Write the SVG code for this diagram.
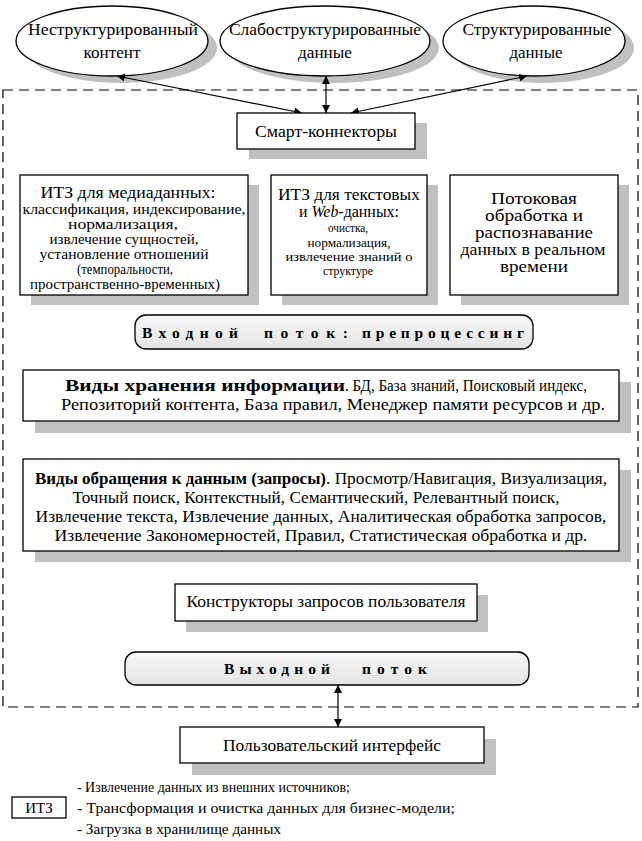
<svg xmlns="http://www.w3.org/2000/svg" width="642" height="841" viewBox="0 0 642 841">
<defs>
<style>
text{font-family:"Liberation Serif","DejaVu Serif","Times New Roman",serif;fill:#000}
.t{font-size:17px;text-anchor:middle}
.m{font-size:16px;text-anchor:middle}
.s1{font-size:14px;text-anchor:middle}
.s2{font-size:13px;text-anchor:middle}
.n{font-size:17px}
.b{font-size:17px;font-weight:bold}
.sp{font-size:15.5px;font-weight:bold}
.lg{font-size:15px}
.box{fill:#fff;stroke:#000;stroke-width:1.3}
.sh{fill:#c0c0c0}
.rb{fill:url(#g);stroke:#000;stroke-width:1.3}
.ln{stroke:#000;stroke-width:1.2;fill:none;marker-start:url(#ah);marker-end:url(#ah)}
</style>
<linearGradient id="g" x1="0" y1="0" x2="0" y2="1">
<stop offset="0" stop-color="#f8f8f8"/>
<stop offset="1" stop-color="#e4e4e4"/>
</linearGradient>
<marker id="ah" viewBox="0 0 10 10" refX="10" refY="5" markerWidth="8" markerHeight="8" markerUnits="userSpaceOnUse" orient="auto-start-reverse">
<path d="M0,0 L10,5 L0,10 z" fill="#000"/>
</marker>
</defs>

<rect x="3" y="90" width="635" height="617" fill="none" stroke="#000" stroke-width="1.2" stroke-dasharray="10 6"/>

<g id="src-unstructured">
<ellipse class="sh" cx="121" cy="48" rx="96" ry="35"/>
<ellipse class="box" cx="112" cy="41" rx="96" ry="35"/>
<text class="t" x="113" y="35" textLength="170" lengthAdjust="spacingAndGlyphs">Неструктурированный</text>
<text class="t" x="112" y="58" textLength="57" lengthAdjust="spacingAndGlyphs">контент</text>
</g>
<g id="src-semistructured">
<ellipse class="sh" cx="334" cy="48" rx="105" ry="35"/>
<ellipse class="box" cx="325" cy="41" rx="105" ry="35"/>
<text class="t" x="325" y="35" textLength="192" lengthAdjust="spacingAndGlyphs">Слабоструктурированные</text>
<text class="t" x="325" y="58" textLength="54" lengthAdjust="spacingAndGlyphs">данные</text>
</g>
<g id="src-structured">
<ellipse class="sh" cx="543" cy="48" rx="91" ry="35"/>
<ellipse class="box" cx="534" cy="41" rx="91" ry="35"/>
<text class="t" x="537" y="35" textLength="149" lengthAdjust="spacingAndGlyphs">Структурированные</text>
<text class="t" x="536" y="58" textLength="53" lengthAdjust="spacingAndGlyphs">данные</text>
</g>

<g id="connectors">
<line class="ln" x1="302" y1="113" x2="117" y2="76"/>
<line class="ln" x1="326" y1="113" x2="326" y2="76"/>
<line class="ln" x1="351" y1="113" x2="527" y2="76"/>
<line class="ln" x1="338" y1="727" x2="338" y2="685"/>
</g>

<g id="smart">
<rect class="sh" x="249" y="123" width="178" height="36"/>
<rect class="box" x="237" y="113" width="178" height="36"/>
<text class="t" x="326" y="137" textLength="142" lengthAdjust="spacingAndGlyphs">Смарт-коннекторы</text>
</g>

<g id="itz-media">
<rect class="sh" x="31" y="185" width="228" height="120"/>
<rect class="box" x="20" y="175" width="228" height="120"/>
<text class="m" x="128" y="198" textLength="175" lengthAdjust="spacingAndGlyphs">ИТЗ для медиаданных:</text>
<text class="s1" x="134" y="214" textLength="223" lengthAdjust="spacingAndGlyphs">классификация, индексирование,</text>
<text class="s1" x="123" y="229" textLength="110" lengthAdjust="spacingAndGlyphs">нормализация,</text>
<text class="s1" x="124" y="244" textLength="149" lengthAdjust="spacingAndGlyphs">извлечение сущностей,</text>
<text class="s1" x="124" y="259" textLength="169" lengthAdjust="spacingAndGlyphs">установление отношений</text>
<text class="s1" x="125" y="274" textLength="96" lengthAdjust="spacingAndGlyphs">(темпоральности,</text>
<text class="s1" x="125" y="289" textLength="190" lengthAdjust="spacingAndGlyphs">пространственно-временных)</text>
</g>

<g id="itz-text">
<rect class="sh" x="282" y="185" width="156" height="120"/>
<rect class="box" x="271" y="175" width="156" height="120"/>
<text class="m" x="349" y="200" textLength="142" lengthAdjust="spacingAndGlyphs">ИТЗ для текстовых</text>
<text class="m" x="349" y="217" textLength="100" lengthAdjust="spacingAndGlyphs">и <tspan font-style="italic">Web</tspan>-данных:</text>
<text class="s2" x="348" y="232" textLength="40" lengthAdjust="spacingAndGlyphs">очистка,</text>
<text class="s2" x="349" y="247" textLength="83" lengthAdjust="spacingAndGlyphs">нормализация,</text>
<text class="s2" x="349" y="261" textLength="127" lengthAdjust="spacingAndGlyphs">извлечение знаний о</text>
<text class="s2" x="348" y="275" textLength="50" lengthAdjust="spacingAndGlyphs">структуре</text>
</g>

<g id="stream">
<rect class="sh" x="461" y="185" width="168" height="120"/>
<rect class="box" x="450" y="175" width="168" height="120"/>
<text class="m" x="534" y="204" textLength="86" lengthAdjust="spacingAndGlyphs">Потоковая</text>
<text class="m" x="534" y="221" textLength="98" lengthAdjust="spacingAndGlyphs">обработка и</text>
<text class="m" x="534" y="238" textLength="118" lengthAdjust="spacingAndGlyphs">распознавание</text>
<text class="m" x="533" y="255" textLength="145" lengthAdjust="spacingAndGlyphs">данных в реальном</text>
<text class="m" x="534" y="272" textLength="68" lengthAdjust="spacingAndGlyphs">времени</text>
</g>

<g id="input-flow">
<rect class="rb" x="135" y="315" width="398" height="34" rx="11"/>
<text class="sp" x="142" y="338" textLength="96" lengthAdjust="spacing">Входной</text>
<text class="sp" x="264" y="338" textLength="84" lengthAdjust="spacing">поток:</text>
<text class="sp" x="362" y="338" textLength="162" lengthAdjust="spacing">препроцессинг</text>
</g>

<g id="storage">
<rect class="sh" x="35" y="382" width="596" height="51"/>
<rect class="box" x="23" y="370" width="596" height="51"/>
<text class="b" x="65" y="391" textLength="280" lengthAdjust="spacingAndGlyphs">Виды хранения информации</text>
<text class="n" x="345" y="391" textLength="242" lengthAdjust="spacingAndGlyphs">. БД, База знаний, Поисковый индекс,</text>
<text class="t" x="333" y="410" textLength="544" lengthAdjust="spacingAndGlyphs">Репозиторий контента, База правил, Менеджер памяти ресурсов и др.</text>
</g>

<g id="queries">
<rect class="sh" x="35" y="470" width="596" height="92"/>
<rect class="box" x="23" y="459" width="596" height="92"/>
<text class="b" x="35" y="484" textLength="291" lengthAdjust="spacingAndGlyphs">Виды обращения к данным (запросы)</text>
<text class="n" x="326" y="484" textLength="281" lengthAdjust="spacingAndGlyphs">. Просмотр/Навигация, Визуализация,</text>
<text class="t" x="316" y="503" textLength="487" lengthAdjust="spacingAndGlyphs">Точный поиск, Контекстный, Семантический, Релевантный поиск,</text>
<text class="t" x="321" y="522" textLength="571" lengthAdjust="spacingAndGlyphs">Извлечение текста, Извлечение данных, Аналитическая обработка запросов,</text>
<text class="t" x="321" y="541" textLength="533" lengthAdjust="spacingAndGlyphs">Извлечение Закономерностей, Правил, Статистическая обработка и др.</text>
</g>

<g id="query-builders">
<rect class="sh" x="186" y="595" width="302" height="37"/>
<rect class="box" x="175" y="584" width="302" height="37"/>
<text class="t" x="326" y="607" textLength="279" lengthAdjust="spacingAndGlyphs">Конструкторы запросов пользователя</text>
</g>

<g id="output-flow">
<rect class="rb" x="125" y="652" width="404" height="33" rx="11"/>
<text class="sp" x="224" y="674" textLength="106" lengthAdjust="spacing">Выходной</text>
<text class="sp" x="362" y="674" textLength="65" lengthAdjust="spacing">поток</text>
</g>

<g id="ui">
<rect class="sh" x="192" y="739" width="304" height="36"/>
<rect class="box" x="180" y="727" width="304" height="36"/>
<text class="t" x="332" y="751" textLength="218" lengthAdjust="spacingAndGlyphs">Пользовательский интерфейс</text>
</g>

<g id="legend">
<rect class="box" x="12" y="797" width="54" height="21"/>
<text class="lg" x="39" y="813" text-anchor="middle">ИТЗ</text>
<text class="lg" x="77" y="792" textLength="273" lengthAdjust="spacingAndGlyphs">- Извлечение данных из внешних источников;</text>
<text class="lg" x="77" y="813" textLength="378" lengthAdjust="spacingAndGlyphs">- Трансформация и очистка данных для бизнес-модели;</text>
<text class="lg" x="77" y="834" textLength="204" lengthAdjust="spacingAndGlyphs">- Загрузка в хранилище данных</text>
</g>
</svg>
